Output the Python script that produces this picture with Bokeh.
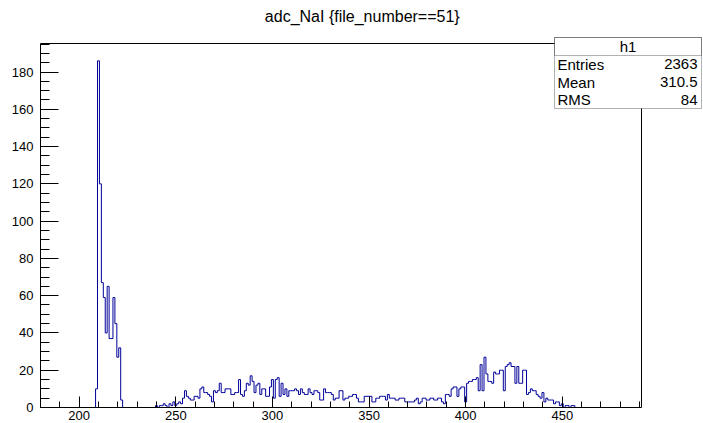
from bokeh.plotting import figure
from bokeh.models import Range1d, LinearAxis, FixedTicker, BoxAnnotation, Label
from bokeh.embed import file_html
from bokeh.resources import INLINE

# ---- histogram contents: one-ADC-count bins, first bin centred on 209 ----
first_bin = 209
bin_width = 1.0
counts = [
    # 209 - 222 : pedestal spike
    10, 186, 120, 67, 59, 40, 65, 37, 37, 59, 45, 27, 32, 4,
    # 223 - 239 : empty
    0, 0, 0, 0, 0, 0, 0, 0, 0, 0, 0, 0, 0, 0, 0, 0, 0,
    # 240 - 254
    1, 0, 1, 1, 2, 1, 0, 2, 1, 3, 1, 2, 3, 2, 5,
    # 255 - 324 : broad bump
    9, 6, 5, 4, 4, 6, 6, 5, 10, 11, 8, 8, 7, 6, 3, 9, 8, 9, 13, 8,
    8, 10, 10, 10, 7, 7, 8, 8, 15, 7, 6, 9, 13, 12, 17, 14, 8, 12, 13, 7,
    10, 10, 6, 6, 11, 15, 5, 15, 16, 6, 13, 7, 10, 6, 9, 9, 9, 10, 9, 7,
    10, 8, 7, 7, 10, 8, 7, 9, 9, 8,
    # 325 - 396 : valley
    4, 4, 10, 8, 8, 8, 7, 4, 5, 5, 9, 9, 4, 5, 5, 6, 6, 7, 7, 5,
    3, 3, 3, 6, 6, 6, 6, 3, 3, 5, 5, 6, 6, 6, 4, 7, 5, 5, 5, 4,
    4, 5, 5, 5, 3, 3, 3, 3, 3, 4, 5, 2, 3, 5, 5, 4, 4, 5, 5, 4,
    4, 5, 5, 3, 2, 7, 7, 6, 10, 11, 11, 6,
    # 397 - 457 : upper peak and tail
    10, 11, 11, 3, 13, 14, 14, 15, 15, 16, 9, 23, 9, 27, 18, 14, 14, 13, 19, 18,
    18, 20, 20, 9, 22, 23, 24, 22, 22, 13, 22, 13, 13, 20, 20, 7, 8, 10, 9, 9,
    7, 6, 5, 8, 3, 5, 4, 4, 4, 2, 3, 3, 1, 2, 0, 1, 1, 0, 1, 1, 0,
]

# ---- axes ----
x_lo, x_hi = 180, 491
y_lo, y_hi = 0, 1.05 * max(counts)
x_major = list(range(200, 451, 50))
x_minor = list(range(180, 491, 10))
y_major = list(range(0, 181, 20))
y_minor = list(range(0, 196, 5))

title_text = "adc_NaI  {file_number==51}"
stats_name = "h1"
stats_labels = ["Entries", "Mean", "RMS"]
stats_values = ["2363", "310.5", "84"]

FONT = "Liberation Sans"
W, H = 703, 423
FL, FR, FT, FB = 40, 641, 43, 407          # histogram frame in canvas pixels

# canvas pixel <-> data helpers; the plotting area spans the whole canvas
sx = (FR - FL) / (x_hi - x_lo)
sy = (FB - FT) / (y_hi - y_lo)
def cx(px):
    return x_lo + (px - FL) / sx
def cy(py):
    return y_lo + (FB - py) / sy

p = figure(width=W, height=H, output_backend="svg", toolbar_location=None,
           x_range=Range1d(cx(0), cx(W)), y_range=Range1d(cy(H), cy(0)),
           min_border=0)
p.background_fill_color = "white"
p.border_fill_color = "white"
p.outline_line_color = None
p.xgrid.visible = False
p.ygrid.visible = False

xa = p.xaxis[0]
xa.fixed_location = y_lo
xa.bounds = (x_lo, x_hi)
xa.ticker = FixedTicker(ticks=x_major, minor_ticks=x_minor)
xa.major_tick_in, xa.major_tick_out = 11, 0
xa.minor_tick_in, xa.minor_tick_out = 6, 0
xa.major_label_standoff = 3
ya = p.yaxis[0]
ya.fixed_location = x_lo
ya.bounds = (y_lo, y_hi)
ya.ticker = FixedTicker(ticks=y_major, minor_ticks=y_minor)
ya.major_tick_in, ya.major_tick_out = 18, 0
ya.minor_tick_in, ya.minor_tick_out = 9, 0
ya.major_label_standoff = 7
for ax in (xa, ya):
    ax.axis_line_color = "black"
    ax.major_tick_line_color = "black"
    ax.minor_tick_line_color = "black"
    ax.major_label_text_font = FONT
    ax.major_label_text_font_size = "13px"
    ax.major_label_text_color = "black"

# plain frame lines on the top and right
top_line = LinearAxis(fixed_location=y_hi, bounds=(x_lo, x_hi))
right_line = LinearAxis(fixed_location=x_hi, bounds=(y_lo, y_hi))
for fa, side in ((top_line, "above"), (right_line, "right")):
    fa.ticker = FixedTicker(ticks=[], minor_ticks=[])
    fa.major_tick_in = fa.major_tick_out = 0
    fa.minor_tick_in = fa.minor_tick_out = 0
    fa.major_label_text_font_size = "0px"
    fa.axis_line_color = "black"
    p.add_layout(fa, side)

# histogram outline as a step path over the bin edges
xs, ys = [], []
edge0 = first_bin - bin_width / 2
xs.append(edge0); ys.append(0)
for i, c in enumerate(counts):
    left = edge0 + i * bin_width
    xs += [left, left + bin_width]
    ys += [c, c]
xs.append(edge0 + len(counts) * bin_width); ys.append(0)
p.line(xs, ys, line_color="#000099", line_width=1)

# title
p.add_layout(Label(x=cx(364), y=cy(16), text=title_text, text_align="center",
                   text_baseline="middle", text_font=FONT, text_font_size="16px",
                   text_color="black"))

# statistics box
bl, br, bt, bb, bsep = 554, 701, 37, 108, 55
p.add_layout(BoxAnnotation(left=cx(bl), right=cx(br), top=cy(bt), bottom=cy(bb),
                           fill_color="white", fill_alpha=1.0,
                           line_color="black", line_width=1))
p.add_layout(BoxAnnotation(left=cx(bl), right=cx(br), top=cy(bt), bottom=cy(bsep),
                           fill_alpha=0.0, line_color="black", line_width=1))
p.add_layout(Label(x=cx((bl + br) / 2), y=cy(46), text=stats_name, text_align="center",
                   text_baseline="middle", text_font=FONT, text_font_size="15px",
                   text_color="black"))
row_h = (bb - bsep) / len(stats_labels)
for i, (name, val) in enumerate(zip(stats_labels, stats_values)):
    yc = cy(bsep + row_h * (i + 0.5))
    p.add_layout(Label(x=cx(bl + 3), y=yc, text=name, text_align="left",
                       text_baseline="middle", text_font=FONT, text_font_size="15px",
                       text_color="black"))
    p.add_layout(Label(x=cx(br - 4), y=yc, text=val, text_align="right",
                       text_baseline="middle", text_font=FONT, text_font_size="15px",
                       text_color="black"))

open("out.html", "w").write(file_html(p, INLINE))
